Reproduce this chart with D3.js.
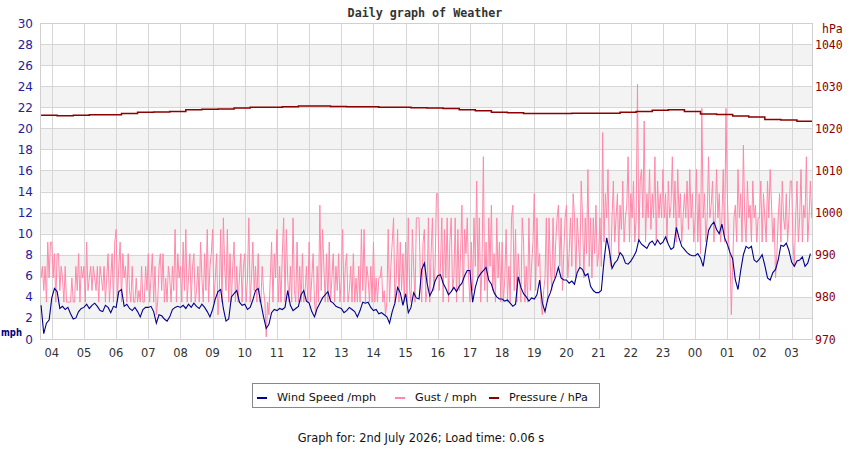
<!DOCTYPE html>
<html>
<head>
<meta charset="utf-8">
<script src="https://cdn.jsdelivr.net/npm/d3@7"></script>
<style>
  body { margin: 0; background: #fff; }
  text { font-family: "DejaVu Sans", sans-serif; }
</style>
</head>
<body>
<svg id="chart" width="850" height="450"></svg>
<script>
// wind speed every 5 minutes from 03:40, mph
var windSpeed = [
  3.2, 0.5, 1.5, 1.8,
  3.9, 4.8, 4.5, 2.9, 3.1, 2.8, 3.0, 2.4, 1.9, 2.0, 2.6, 2.9,
  3.0, 3.3, 2.9, 3.2, 3.4, 3.1, 2.7, 2.6, 3.2, 3.0, 2.5, 3.1,
  3.0, 4.5, 4.7, 3.1, 3.3, 2.9, 2.7, 3.0, 2.6, 2.1, 2.8, 3.0,
  3.0, 3.1, 2.6, 1.5, 2.3, 2.2, 1.9, 1.7, 2.1, 2.8, 3.0, 3.1,
  3.0, 3.2, 2.9, 3.3, 3.0, 3.4, 3.1, 2.9, 3.3, 3.0, 2.6, 2.1,
  2.8, 3.8, 4.5, 4.7, 2.9, 1.7, 1.9, 4.0, 4.3, 4.6, 3.5, 3.2,
  3.3, 2.8, 3.0, 3.7, 4.6, 4.8, 3.4, 2.1, 1.0, 1.4, 2.5, 2.8,
  2.7, 2.9, 2.8, 3.0, 4.6, 3.2, 2.7, 2.9, 3.1, 4.2, 4.6, 3.6,
  3.4, 2.6, 2.1, 2.9, 3.4, 3.9, 4.2, 4.5, 3.6, 3.4, 3.1, 3.0,
  2.9, 2.5, 2.7, 3.0, 2.8, 2.6, 2.1, 2.7, 3.5, 3.4, 3.5, 3.0,
  2.7, 2.8, 2.4, 2.5, 2.3, 2.1, 1.5, 2.6, 3.4, 4.9, 4.4, 3.2,
  4.3, 2.5, 3.0, 4.4, 3.9, 3.8, 6.6, 7.2, 5.3, 4.1, 4.6, 5.5,
  6.0, 6.1, 5.3, 4.8, 4.2, 4.5, 4.9, 4.5, 5.0, 5.3, 6.0, 6.5,
  6.5, 3.5, 4.9, 5.8, 6.2, 6.5, 6.8, 5.6, 5.2, 4.4, 4.0, 3.8,
  3.8, 3.6, 3.7, 3.4, 3.1, 3.3, 5.9, 4.9, 4.3, 4.0, 3.6, 3.9,
  3.8, 4.2, 5.6, 3.4, 2.6, 3.8, 4.4, 5.3, 5.9, 6.8, 5.8, 5.6,
  5.6, 5.3, 5.5, 5.2, 6.3, 6.8, 6.6, 6.0, 6.2, 5.0, 4.6, 4.4,
  4.4, 4.6, 7.4, 9.6, 8.4, 6.7, 7.2, 7.5, 8.2, 7.9, 7.2, 7.1,
  7.4, 7.8, 8.3, 9.4, 9.0, 8.8, 8.6, 9.1, 9.3, 8.9, 9.4, 9.0,
  9.2, 9.7, 9.0, 8.5, 8.7, 10.6, 9.6, 8.8, 8.5, 8.2, 8.0, 7.9,
  7.9, 8.1, 7.7, 6.9, 8.6, 10.3, 10.8, 11.1, 10.4, 10.0, 10.9, 9.6,
  9.0, 8.2, 7.6, 5.6, 4.7, 6.5, 8.0, 8.8, 8.6, 8.8, 7.5, 7.3,
  7.6, 8.0, 7.0, 5.8, 5.6, 6.3, 6.6, 7.5, 8.9, 8.8, 9.1, 8.4,
  7.3, 6.9, 7.4, 7.5, 7.8, 6.9, 7.2, 8.1
];

// gust every 2.5 minutes from 03:40, mph
var gust = [
  5.8, 6.9, 4.6, 6.9, 3.5, 9.2, 5.8, 9.2,
  9.2, 5.8, 8.1, 3.5, 8.1, 8.1, 4.6, 6.9, 5.8, 3.5, 6.9, 3.5, 3.5, 3.5, 3.5, 5.8, 3.5, 3.5, 6.9, 4.6, 8.1, 3.5, 6.9, 5.8,
  6.9, 3.5, 9.2, 4.6, 5.8, 6.9, 4.6, 6.9, 5.8, 4.6, 6.9, 3.5, 6.9, 5.8, 4.6, 6.9, 3.5, 5.8, 8.1, 3.5, 5.8, 8.1, 3.5, 9.2,
  10.4, 3.5, 6.9, 9.2, 3.5, 8.1, 5.8, 6.9, 3.5, 8.1, 4.6, 3.5, 6.9, 3.5, 3.5, 5.8, 3.5, 4.6, 3.5, 6.9, 3.5, 3.5, 6.9, 4.6,
  8.1, 3.5, 5.8, 8.1, 3.5, 6.9, 2.3, 3.5, 6.9, 8.1, 4.6, 8.1, 3.5, 5.8, 3.5, 6.9, 5.8, 3.5, 6.9, 4.6, 10.4, 3.5, 8.1, 5.8,
  6.9, 3.5, 9.2, 4.6, 10.4, 3.5, 5.8, 8.1, 3.5, 6.9, 8.1, 3.5, 4.6, 6.9, 3.5, 9.2, 5.8, 3.5, 8.1, 4.6, 10.4, 3.5, 6.9, 8.1,
  10.4, 3.5, 5.8, 8.1, 2.3, 4.6, 10.4, 3.5, 11.5, 6.9, 4.6, 10.4, 3.5, 8.1, 3.5, 6.9, 9.2, 3.5, 6.9, 3.5, 5.8, 8.1, 3.5, 6.9,
  8.1, 3.5, 5.8, 11.5, 3.5, 5.8, 9.2, 4.6, 6.9, 3.5, 8.1, 3.5, 3.5, 6.9, 4.6, 3.5, 0.2, 3.5, 2.3, 5.8, 9.2, 3.5, 8.1, 5.8,
  10.4, 3.5, 6.9, 3.5, 8.1, 11.5, 3.5, 10.4, 5.8, 3.5, 6.9, 3.5, 11.5, 4.6, 3.5, 9.2, 3.5, 6.9, 3.5, 8.1, 3.5, 4.6, 6.9, 3.5,
  9.2, 3.5, 5.8, 8.1, 3.5, 2.3, 6.9, 3.5, 12.7, 4.6, 10.4, 6.9, 3.5, 8.1, 3.5, 9.2, 3.5, 5.8, 8.1, 3.5, 6.9, 4.6, 8.1, 3.5,
  5.8, 10.4, 3.5, 6.9, 8.1, 3.5, 4.6, 6.9, 3.5, 8.1, 3.5, 5.8, 3.5, 6.9, 3.5, 10.4, 4.6, 10.4, 3.5, 6.9, 5.8, 3.5, 6.9, 3.5,
  9.2, 3.5, 5.8, 3.5, 5.8, 5.8, 6.9, 3.5, 4.6, 2.3, 3.5, 10.4, 3.5, 6.9, 9.2, 11.5, 3.5, 5.8, 10.4, 3.5, 9.2, 4.6, 8.1, 3.5,
  9.2, 3.5, 11.5, 4.6, 3.5, 10.4, 6.9, 3.5, 11.5, 11.5, 11.5, 5.8, 3.5, 9.2, 10.4, 3.5, 4.6, 11.5, 3.5, 8.1, 11.5, 4.6, 6.9, 13.8,
  13.8, 4.6, 6.9, 11.5, 3.5, 10.4, 5.8, 11.5, 3.5, 9.2, 11.5, 4.6, 5.8, 11.5, 3.5, 10.4, 4.6, 8.1, 12.7, 3.5, 10.4, 8.1, 11.5, 5.8,
  3.5, 9.2, 4.6, 11.5, 6.9, 15.0, 5.8, 11.5, 3.5, 6.9, 17.3, 4.6, 9.2, 3.5, 11.5, 6.9, 12.7, 4.6, 8.1, 3.5, 11.5, 5.8, 9.2, 3.5,
  9.2, 3.5, 5.8, 10.4, 3.5, 6.9, 3.5, 11.5, 12.7, 4.6, 10.4, 3.5, 8.1, 5.8, 3.5, 11.5, 9.2, 3.5, 6.9, 3.5, 11.5, 4.6, 6.9, 9.2,
  13.8, 4.6, 11.5, 6.9, 8.1, 3.5, 2.3, 4.6, 5.8, 11.5, 3.5, 11.5, 6.9, 4.6, 11.5, 5.8, 9.2, 11.5, 12.7, 6.9, 11.5, 4.6, 8.1, 11.5,
  12.7, 5.8, 8.1, 11.5, 6.9, 13.8, 11.5, 5.8, 11.5, 9.2, 6.9, 15.0, 11.5, 5.8, 11.5, 8.1, 16.1, 6.9, 11.5, 5.8, 11.5, 8.1, 12.7, 6.9,
  8.1, 11.5, 6.9, 19.6, 9.2, 13.8, 11.5, 16.1, 8.1, 6.9, 11.5, 15.0, 9.2, 11.5, 13.8, 8.1, 12.7, 10.4, 15.0, 9.2, 11.5, 12.7, 17.3, 9.2,
  13.8, 11.5, 15.0, 9.2, 11.5, 24.2, 9.2, 15.0, 16.1, 11.5, 20.7, 9.2, 13.8, 11.5, 16.1, 10.4, 13.8, 11.5, 17.3, 9.2, 15.0, 11.5, 13.8, 11.5,
  16.1, 11.5, 13.8, 9.2, 15.0, 11.5, 12.7, 17.3, 11.5, 15.0, 9.2, 16.1, 11.5, 13.8, 9.2, 11.5, 13.8, 11.5, 15.0, 10.4, 16.1, 11.5, 13.8, 9.2,
  11.5, 16.1, 9.2, 13.8, 8.1, 21.9, 11.5, 13.8, 9.2, 11.5, 17.3, 11.5, 12.7, 15.0, 9.2, 11.5, 16.1, 11.5, 13.8, 9.2, 11.5, 16.1, 9.2, 21.9,
  13.8, 9.2, 8.1, 2.3, 6.9, 11.5, 12.7, 9.2, 16.1, 11.5, 13.8, 9.2, 18.4, 11.5, 9.2, 15.0, 11.5, 12.7, 9.2, 15.0, 11.5, 12.7, 9.2, 11.5,
  11.5, 15.0, 9.2, 13.8, 11.5, 9.2, 15.0, 11.5, 16.1, 12.7, 9.2, 11.5, 5.8, 8.1, 11.5, 13.8, 9.2, 15.0, 11.5, 10.4, 13.8, 9.2, 11.5, 15.0,
  15.0, 9.2, 6.9, 11.5, 15.0, 9.2, 11.5, 16.1, 9.2, 12.7, 11.5, 17.3, 9.2, 11.5, 15.0, 11.5
];

// half-hourly pressure from 03:40, hPa
var pressure = [
  1023.1, 1023.0, 1023.1, 1023.2, 1023.2, 1023.5, 1023.8, 1023.9, 1024.0, 1024.4,
  1024.5, 1024.6, 1024.8, 1025.0, 1025.0, 1025.1, 1025.3, 1025.3, 1025.2, 1025.1,
  1025.1, 1025.0, 1025.0, 1024.9, 1024.8, 1024.7, 1024.4, 1024.2, 1023.8, 1023.7,
  1023.5, 1023.5, 1023.5, 1023.6, 1023.6, 1023.6, 1023.8, 1024.0, 1024.3, 1024.4,
  1024.0, 1023.4, 1023.3, 1022.9, 1022.7, 1022.1, 1022.0, 1021.7, 1021.3
];

var mphTicks = d3.range(0, 31, 2);
var hpaTicks = [970, 980, 990, 1000, 1010, 1020, 1030, 1040];

var viewStart = new Date(2026, 6, 1, 3, 38);
var viewEnd = new Date(2026, 6, 2, 3, 38);
var firstReading = new Date(2026, 6, 1, 3, 40);

var windTimes = windSpeed.map((d, i) => d3.timeSecond.offset(firstReading, i * 300));
var gustTimes = gust.map((d, i) => d3.timeSecond.offset(firstReading, i * 150));
var pressureTimes = pressure.map((d, i) => d3.timeSecond.offset(firstReading, i * 1800));

var plotLeft = 40, plotRight = 812, plotTop = 23, plotBottom = 339;

var svg = d3.select('#chart');

var xScale = d3.scaleTime().domain([viewStart, viewEnd]).range([plotLeft, plotRight]);
var yScale = d3.scaleLinear().domain([0, 30]).range([plotBottom, plotTop]);
var pScale = d3.scaleLinear().domain([970, 1045]).range([plotBottom, plotTop]);

svg.append('defs').append('clipPath').attr('id', 'plotClip')
  .append('rect')
  .attr('x', plotLeft).attr('y', plotTop)
  .attr('width', plotRight - plotLeft).attr('height', plotBottom - plotTop);

// shaded bands
svg.append('g')
  .selectAll('rect')
  .data(mphTicks.filter(d => d % 4 == 2 && d < 30))
  .enter()
  .append('rect')
  .attr('x', plotLeft)
  .attr('width', plotRight - plotLeft)
  .attr('y', d => yScale(d + 2))
  .attr('height', d => yScale(d) - yScale(d + 2))
  .style('fill', '#f3f3f3');

// horizontal grid
svg.append('g')
  .selectAll('line')
  .data(mphTicks)
  .enter()
  .append('line')
  .attr('x1', plotLeft).attr('x2', plotRight)
  .attr('y1', d => Math.round(yScale(d)) + 0.5)
  .attr('y2', d => Math.round(yScale(d)) + 0.5)
  .style('stroke', '#d6d6d6');

// vertical grid
var hours = xScale.ticks(d3.timeHour.every(1));
svg.append('g')
  .selectAll('line')
  .data(hours)
  .enter()
  .append('line')
  .attr('x1', d => Math.round(xScale(d)) + 0.5)
  .attr('x2', d => Math.round(xScale(d)) + 0.5)
  .attr('y1', plotTop).attr('y2', plotBottom)
  .style('stroke', '#d6d6d6');

// frame
svg.append('rect')
  .attr('x', plotLeft + 0.5).attr('y', plotTop + 0.5)
  .attr('width', plotRight - plotLeft).attr('height', plotBottom - plotTop)
  .style('fill', 'none')
  .style('stroke', '#d0d0d0');

var plot = svg.append('g').attr('clip-path', 'url(#plotClip)');

plot.append('path')
  .datum(gust)
  .attr('d', d3.line().x((d, i) => xScale(gustTimes[i])).y(d => yScale(d)))
  .style('fill', 'none')
  .style('stroke', '#ff88aa')
  .style('stroke-width', 1);

plot.append('path')
  .datum(windSpeed)
  .attr('d', d3.line().x((d, i) => xScale(windTimes[i])).y(d => yScale(d)))
  .style('fill', 'none')
  .style('stroke', '#00008b')
  .style('stroke-width', 1.1);

var pressureLine = d3.line()
  .curve(d3.curveStepAfter)
  .x((d, i) => xScale(pressureTimes[i]))
  .y(d => pScale(d));

plot.append('path')
  .datum(pressure)
  .attr('d', pressureLine)
  .style('fill', 'none')
  .style('stroke', '#8b0000')
  .style('stroke-width', 1.5);

// left axis labels
svg.append('g')
  .selectAll('text')
  .data(mphTicks)
  .enter()
  .append('text')
  .attr('x', 33)
  .attr('y', d => yScale(d) + 4.5)
  .attr('text-anchor', 'end')
  .style('font-size', '12px')
  .style('fill', '#22229a')
  .text(d => d);

svg.append('text')
  .attr('x', 1).attr('y', 336)
  .attr('textLength', 21)
  .attr('lengthAdjust', 'spacingAndGlyphs')
  .style('font-size', '11px')
  .style('font-weight', 'bold')
  .style('fill', '#00007a')
  .text('mph');

// right axis labels
svg.append('g')
  .selectAll('text')
  .data(hpaTicks)
  .enter()
  .append('text')
  .attr('x', 815)
  .attr('y', d => pScale(d) + 4.5)
  .style('font-family', '"DejaVu Sans Mono", monospace')
  .style('font-size', '11.5px')
  .style('fill', '#8b0000')
  .text(d => d);

svg.append('text')
  .attr('x', 822).attr('y', 33)
  .style('font-family', '"DejaVu Sans Mono", monospace')
  .style('font-size', '11.5px')
  .style('fill', '#8b0000')
  .text('hPa');

// x labels
var fmtHour = d3.timeFormat('%H');
svg.append('g')
  .selectAll('text')
  .data(hours)
  .enter()
  .append('text')
  .attr('x', d => xScale(d))
  .attr('y', 357)
  .attr('text-anchor', 'middle')
  .style('font-size', '11.5px')
  .style('fill', '#333')
  .text(d => fmtHour(d));

// title
svg.append('text')
  .attr('x', 425).attr('y', 17)
  .attr('text-anchor', 'middle')
  .style('font-family', '"DejaVu Sans Mono", monospace')
  .style('font-size', '11.7px')
  .style('font-weight', 'bold')
  .style('fill', '#333')
  .text('Daily graph of Weather');

// legend
var legendItems = [
  { label: 'Wind Speed /mph', color: '#00008b', x: 257 },
  { label: 'Gust / mph', color: '#ff88aa', x: 395 },
  { label: 'Pressure / hPa', color: '#8b0000', x: 489 }
];

svg.append('rect')
  .attr('x', 252.5).attr('y', 383.5)
  .attr('width', 347).attr('height', 24)
  .style('fill', '#fff')
  .style('stroke', '#888');

var legend = svg.append('g')
  .selectAll('g')
  .data(legendItems)
  .enter()
  .append('g');

legend.append('line')
  .attr('x1', d => d.x).attr('x2', d => d.x + 10)
  .attr('y1', 398).attr('y2', 398)
  .style('stroke', d => d.color)
  .style('stroke-width', 2);

legend.append('text')
  .attr('x', d => d.x + 20)
  .attr('y', 401)
  .style('font-size', '11.2px')
  .style('fill', '#111')
  .text(d => d.label);

svg.append('text')
  .attr('x', 421).attr('y', 442)
  .attr('text-anchor', 'middle')
  .style('font-size', '11.4px')
  .style('fill', '#111')
  .text('Graph for: 2nd July 2026; Load time: 0.06 s');
</script>
</body>
</html>
